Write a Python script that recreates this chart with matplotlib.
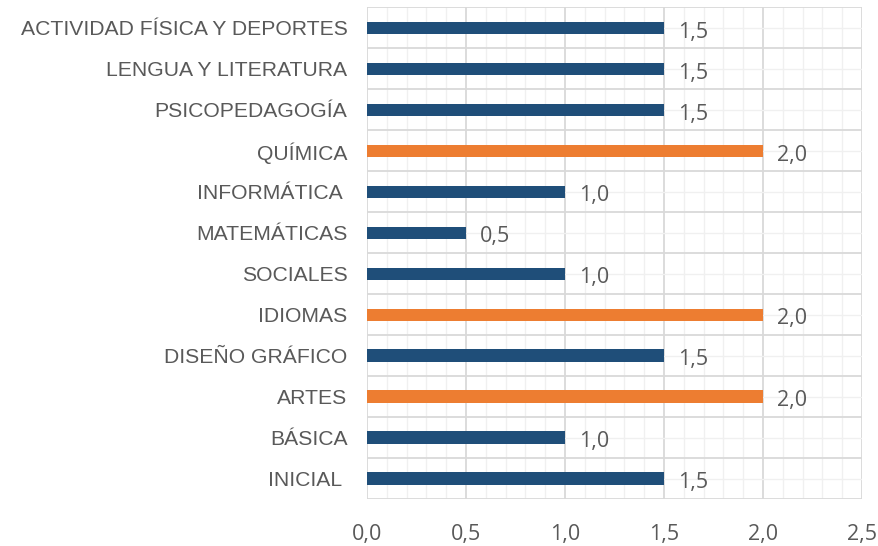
import numpy as np
import matplotlib.pyplot as plt
from matplotlib.ticker import MultipleLocator, FixedLocator

categorias = ["INICIAL ", "BÁSICA", "ARTES", "DISEÑO GRÁFICO", "IDIOMAS", "SOCIALES",
              "MATEMÁTICAS", "INFORMÁTICA ", "QUÍMICA", "PSICOPEDAGOGÍA",
              "LENGUA Y LITERATURA", "ACTIVIDAD FÍSICA Y DEPORTES"]
valores = [1.5, 1.0, 2.0, 1.5, 2.0, 1.0, 0.5, 1.0, 2.0, 1.5, 1.5, 1.5]
ticks_x = [0.0, 0.5, 1.0, 1.5, 2.0, 2.5]

azul = "#1F4E79"
naranja = "#ED7D31"
gris = "#595959"
colores = [naranja if v == max(valores) else azul for v in valores]

fig = plt.figure(figsize=(8.79, 5.46), dpi=100)
ax = fig.add_axes([0.4175, 0.0861, 0.5632, 0.9002])

y = np.arange(len(categorias))
ax.barh(y, valores, height=0.3, color=colores, zorder=3)

for yi, v in zip(y, valores):
    ax.annotate(f"{v:.1f}".replace(".", ","), (v, yi), xytext=(10, -3),
                textcoords="offset points", ha="left", va="center",
                fontsize=15.5, color=gris, fontfamily="Open Sans")

ax.set_xlim(0, 2.5)
ax.set_ylim(-0.5, len(categorias) - 0.5)
ax.xaxis.set_minor_locator(MultipleLocator(0.1))
ax.set_yticks(y)
ax.set_yticklabels(categorias, fontfamily="Liberation Sans", fontsize=15.2, color=gris)
ax.yaxis.set_minor_locator(FixedLocator(np.arange(-0.5, len(categorias), 1.0)))
ax.set_xticks(ticks_x)
ax.set_xticklabels([f"{t:.1f}".replace(".", ",") for t in ticks_x],
                   fontfamily="Open Sans", fontsize=15.5, color=gris)

ax.grid(which="major", axis="x", color="#D9D9D9", lw=1.3, zorder=0)
ax.grid(which="minor", axis="x", color="#F0F0F0", lw=1.0, zorder=0)
ax.grid(which="minor", axis="y", color="#D9D9D9", lw=1.3, zorder=0)
ax.grid(which="major", axis="y", color="#F0F0F0", lw=1.0, zorder=0)
ax.set_axisbelow(True)

for s in ax.spines.values():
    s.set_visible(False)

ax.tick_params(which="both", length=0)
ax.tick_params(axis="y", pad=14)
ax.tick_params(axis="x", pad=18)

fig.savefig("out.png", dpi=100)
